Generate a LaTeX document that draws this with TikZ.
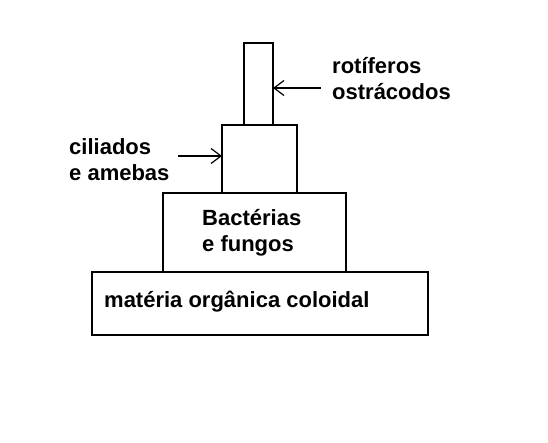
\documentclass[tikz,border=0pt]{standalone}
\usepackage{fontspec}
\setmainfont{Liberation Sans}
\usetikzlibrary{positioning}
\usetikzlibrary{arrows.meta}

\begin{document}
\begin{tikzpicture}[x=1pt, y=1pt, font=\bfseries\fontsize{22}{26}\selectfont,
        box/.style={draw, line width=1.6pt, rectangle, inner sep=0pt, outer sep=0pt},
        >={Straight Barb[length=10pt, width=15pt]}]
        \useasboundingbox (0,0) rectangle (548,442);
        \node [box, minimum width=336pt, minimum height=63pt] (materia) at (260,138.5) {};
        \node [box, above=0pt of materia, xshift=-5.5pt, minimum width=183pt, minimum height=79pt] (bact) {};
        \node [box, above=0pt of bact, xshift=5pt, minimum width=75pt, minimum height=68pt] (cil) {};
        \node [box, above=0pt of cil, xshift=-1pt, minimum width=29pt, minimum height=82pt] (rot) {};
        % textos
        \node [anchor=base west, inner sep=0pt] (tmat) at (104,135) {matéria orgânica coloidal};
        \node [anchor=base west, inner sep=0pt, align=left] (tbact) at (202,190) {Bactérias\\e fungos};
        \node [anchor=base west, inner sep=0pt, align=left] (tcil) at (69,261) {ciliados\\e amebas};
        \node [anchor=base west, inner sep=0pt, align=left] (trot) at (332,342) {rotíferos\\ostrácodos};
        % setas
        \coordinate (arot) at (321,354);
        \coordinate (acil) at (178,286);
        \draw[->, line width=1.2pt] (arot) -- (arot -| rot.east);
        \draw[->, line width=1.2pt] (acil) -- (acil -| cil.west);
    \end{tikzpicture}
\end{document}
